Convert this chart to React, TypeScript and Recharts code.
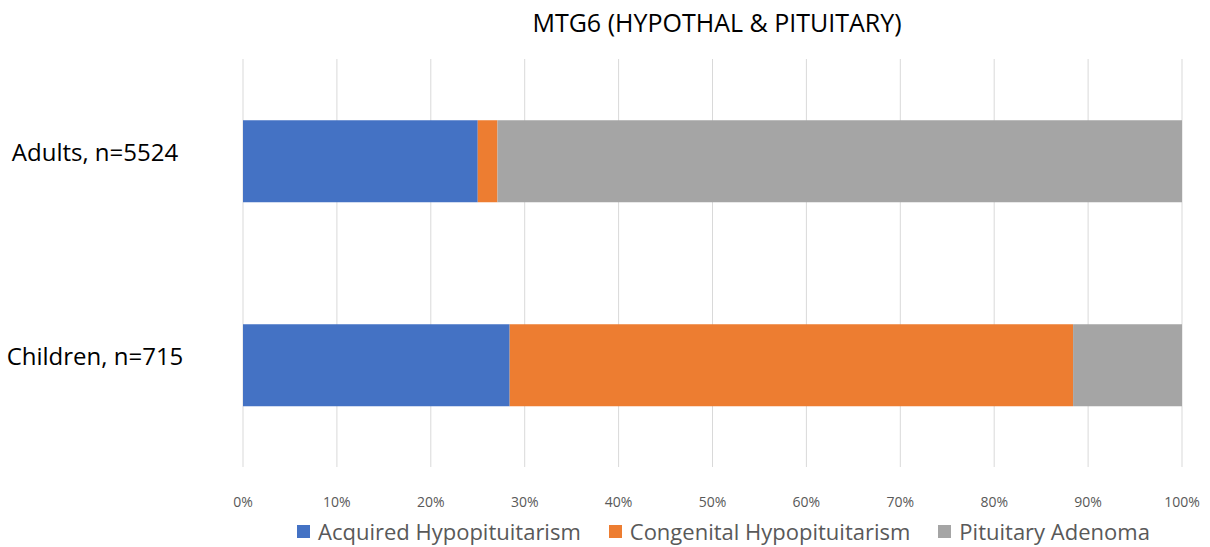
import { BarChart, Bar, XAxis, YAxis, CartesianGrid } from 'recharts'

const categories = ['Adults, n=5524', 'Children, n=715']
const acquired = [25, 28.4]
const congenital = [2.1, 60]
const adenoma = [72.9, 11.6]
const xTicks = [0, 10, 20, 30, 40, 50, 60, 70, 80, 90, 100]

const seriesNames = ['Acquired Hypopituitarism', 'Congenital Hypopituitarism', 'Pituitary Adenoma']
const seriesKeys = ['acquired', 'congenital', 'adenoma']
const seriesColors = ['#4472C4', '#ED7D31', '#A5A5A5']

const data = categories.map((name, i) => ({
  name,
  acquired: acquired[i],
  congenital: congenital[i],
  adenoma: adenoma[i],
}))

const FONT = '"Open Sans", "Noto Sans", sans-serif'

// category labels sit centred in the left margin, like Excel does it
function CategoryTick(props: any) {
  const { y, payload } = props
  return (
    <text x={95} y={y} dy={0} textAnchor="middle" fill="#000" fontSize={24} fontFamily={FONT}>
      {payload.value}
    </text>
  )
}

export default function App() {
  return (
    <div style={{ position: 'absolute', left: 0, top: 0, width: 1210, height: 547, background: '#fff' }}>
      <div
        style={{
          position: 'absolute',
          top: 5,
          left: 0,
          width: 1434,
          textAlign: 'center',
          fontFamily: FONT,
          fontSize: 25,
          color: '#000',
        }}
      >
        MTG6 (HYPOTHAL &amp; PITUITARY)
      </div>
      <BarChart
        width={1210}
        height={547}
        data={data}
        layout="vertical"
        barCategoryGap="30%"
        margin={{ top: 59, right: 28, left: 0, bottom: 50 }}
      >
        <CartesianGrid horizontal={false} stroke="#d9d9d9" />
        <XAxis
          type="number"
          domain={[0, 100]}
          ticks={xTicks}
          tickFormatter={(v: number) => `${v}%`}
          axisLine={false}
          tickLine={false}
          tick={{ fontSize: 14, fill: '#595959', fontFamily: FONT }}
          tickMargin={24}
          interval={0}
        />
        <YAxis
          type="category"
          dataKey="name"
          width={243}
          axisLine={false}
          tickLine={false}
          tick={<CategoryTick />}
        />
        {seriesKeys.map((k, i) => (
          <Bar key={k} dataKey={k} name={seriesNames[i]} stackId="a" fill={seriesColors[i]} isAnimationActive={false} />
        ))}
      </BarChart>
      <div
        style={{
          position: 'absolute',
          top: 516,
          left: 297,
          display: 'flex',
          alignItems: 'center',
          fontFamily: FONT,
          fontSize: 22,
          color: '#595959',
          whiteSpace: 'nowrap',
        }}
      >
        {seriesNames.map((n, i) => (
          <div key={n} style={{ display: 'flex', alignItems: 'center', marginRight: 28 }}>
            <span style={{ display: 'inline-block', width: 13, height: 13, background: seriesColors[i], marginRight: 8 }} />
            <span>{n}</span>
          </div>
        ))}
      </div>
    </div>
  )
}
